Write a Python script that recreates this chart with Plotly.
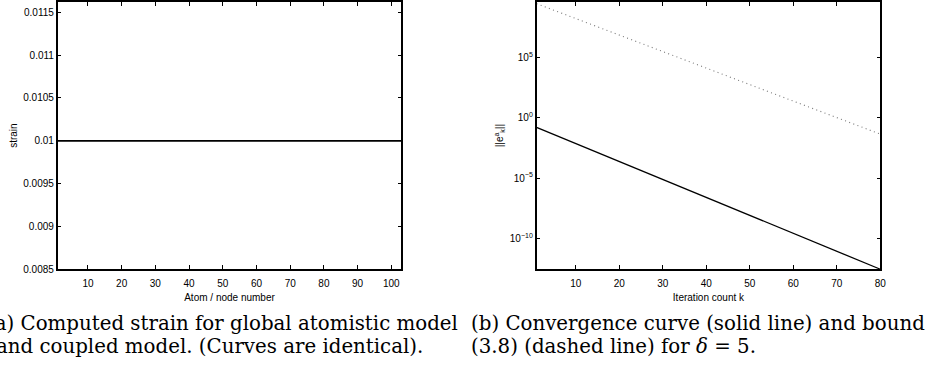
import plotly.graph_objects as go

# ---- data ----
node_number = [1, 103]
strain_atomistic = [0.01, 0.01]
strain_coupled = [0.01, 0.01]

iteration_k = [1, 20, 40, 60, 80]
error_norm = [1.6e-1, 2.4e-4, 2.5e-7, 2.6e-10, 2.75e-13]
error_bound = [2.9e9, 7.2e6, 1.3e4, 24.0, 0.044]

strain_ticks = [0.0085, 0.009, 0.0095, 0.01, 0.0105, 0.011, 0.0115]
strain_ticktext = ["0.0085", "0.009", "0.0095", "0.01", "0.0105", "0.011", "0.0115"]
node_ticks = [10, 20, 30, 40, 50, 60, 70, 80, 90, 100]
iter_ticks = [10, 20, 30, 40, 50, 60, 70, 80]
log_ticks = [1e-10, 1e-5, 1e0, 1e5]
log_ticktext = ["10<sup>−10</sup>", "10<sup>−5</sup>", "10<sup>0</sup>", "10<sup>5</sup>"]

W, H = 937, 379
SANS = "Liberation Sans, Arial, sans-serif"
SERIF = "DejaVu Serif, serif"

fig = go.Figure()
fig.add_trace(go.Scatter(x=node_number, y=strain_atomistic, mode="lines",
                         line=dict(color="black", width=1.3), xaxis="x", yaxis="y"))
fig.add_trace(go.Scatter(x=node_number, y=strain_coupled, mode="lines",
                         line=dict(color="black", width=1.3), xaxis="x", yaxis="y"))
fig.add_trace(go.Scatter(x=iteration_k, y=error_bound, mode="lines",
                         line=dict(color="#777777", width=1.1, dash="1px,3.4px"), xaxis="x2", yaxis="y2"))
fig.add_trace(go.Scatter(x=iteration_k, y=error_norm, mode="lines",
                         line=dict(color="black", width=1.3), xaxis="x2", yaxis="y2"))

axis_common = dict(showline=True, linecolor="black", linewidth=1.5, mirror="ticks",
                   ticks="inside", ticklen=4, tickwidth=1, tickcolor="black",
                   showgrid=False, zeroline=False,
                   tickfont=dict(family=SANS, size=10, color="black"))
title_font = dict(family=SANS, size=10, color="black")

ydom = [1 - 273 / H, 1.0]
fig.update_layout(
    width=W, height=H,
    margin=dict(l=0, r=0, t=0, b=0),
    paper_bgcolor="white", plot_bgcolor="white",
    showlegend=False,
    xaxis=dict(domain=[58 / W, 404 / W], range=[1, 103], tickmode="array",
               tickvals=node_ticks, anchor="y", ticklabelstandoff=4,
               title=dict(text="Atom / node number", font=title_font, standoff=6),
               **axis_common),
    yaxis=dict(domain=ydom, range=[0.0085, 0.01162], tickmode="array",
               tickvals=strain_ticks, ticktext=strain_ticktext, anchor="x",
               title=dict(text="strain", font=title_font, standoff=4),
               **axis_common),
    xaxis2=dict(domain=[540 / W, 886 / W], range=[1, 80], tickmode="array",
                tickvals=iter_ticks, anchor="y2", ticklabelstandoff=4,
                title=dict(text="Iteration count k", font=title_font, standoff=6),
                **axis_common),
    yaxis2=dict(domain=ydom, type="log", range=[-12.56, 9.60], tickmode="array",
                tickvals=log_ticks, ticktext=log_ticktext, anchor="x2",
                title=dict(text="||e<sup>a</sup><sub>k</sub>||", font=title_font, standoff=4),
                **axis_common),
)

cap_font = dict(family=SERIF, size=19.8, color="black")


def px(x):
    return x / W


def py(y):
    return 1 - y / H


captions = [
    ("(a) Computed strain for global atomistic model", 463, 328, "right"),
    ("and coupled model. (Curves are identical).", -6, 352, "left"),
    ("(b) Convergence curve (solid line) and bound", 472, 328, "left"),
    ("(3.8) (dashed line) for <i>δ</i> = 5.", 472, 352, "left"),
]
for text, x, y, anchor in captions:
    fig.add_annotation(text=text, xref="paper", yref="paper", x=px(x), y=py(y),
                       xanchor=anchor, yanchor="middle", showarrow=False, font=cap_font)

fig.write_html("out.html", config={"displayModeBar": False},
               post_script="document.body.style.margin='0';")
